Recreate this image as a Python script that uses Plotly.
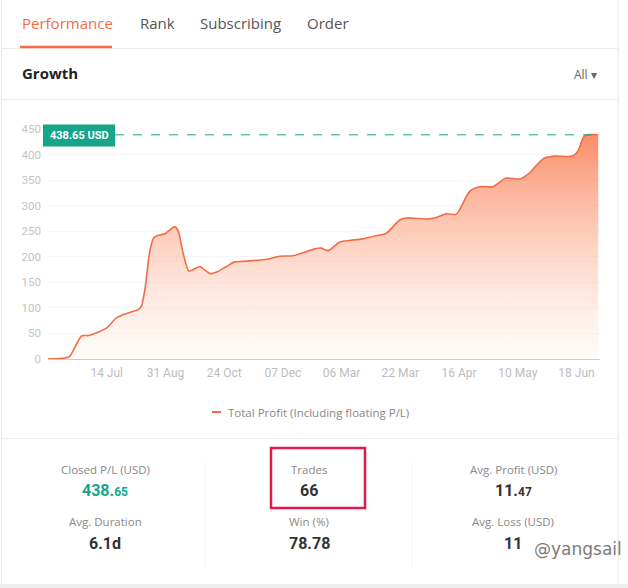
import plotly.graph_objects as go

# ---------------- data ----------------
x_pos = [0, 2.9, 3.7, 5.7, 6.9, 8.8, 10.0, 11.7, 12.8, 15.4, 15.9, 16.5, 17.3, 18.0, 18.8,
         19.9, 20.7, 21.6, 22.2, 23.0, 24.0, 25.0, 25.9, 26.5, 27.7, 28.7, 30.4, 31.8, 33.2,
         35.5, 37.2, 39.5, 41.7, 43.7, 45.3, 46.5, 47.7, 49.7, 51.4, 53.6, 55.9, 57.6, 59.9,
         61.0, 64.7, 66.1, 67.8, 69.5, 70.4, 71.8, 73.5, 75.7, 76.6, 78.0, 80.3, 81.7, 83.1,
         84.5, 86.2, 89.3, 90.2, 91.3, 92.2, 93.7]
profit = [0, 2, 5, 45, 46, 54, 61, 81, 87, 97, 103, 136, 208, 237, 242,
          245, 252, 259, 250, 208, 172, 177, 181, 176, 167, 170, 181, 190, 191,
          193, 195, 201, 202, 209, 215, 217, 212, 229, 232, 235, 241, 246, 272,
          276, 274, 277, 284, 283, 299, 328, 337, 337, 343, 354, 352, 361, 378,
          393, 397, 397, 406, 436, 439, 438.65]
tick_pos = [10, 20, 30, 40, 50, 60, 70, 80, 90]
tick_labels = ["14 Jul", "31 Aug", "24 Oct", "07 Dec", "06 Mar", "22 Mar", "16 Apr", "10 May", "18 Jun"]
y_ticks = [0, 50, 100, 150, 200, 250, 300, 350, 400, 450]
last_value = 438.65
tabs = ["Performance", "Rank", "Subscribing", "Order"]
stat_labels = [["Closed P/L (USD)", "Avg. Duration"], ["Trades", "Win (%)"], ["Avg. Profit (USD)", "Avg. Loss (USD)"]]
stat_values = [[("438.", "65"), ("6.1d", "")], [("66", ""), ("78.78", "")], [("11.", "47"), ("11", "")]]

# ---------------- layout geometry (pixels) ----------------
W, H = 628, 588
L, R, T, B = 48, 28, 129, 229
PW, PH = W - L - R, H - T - B


def px(xp):
    return (xp - L) / PW


def py(yp):
    return (H - B - yp) / PH


ORANGE = "#f26d45"
TEAL = "#17a589"
UI_FONT = "Open Sans"

fig = go.Figure()
fig.add_trace(go.Scatter(
    x=x_pos, y=profit, mode="lines",
    line=dict(color=ORANGE, width=1.6, shape="spline", smoothing=0.7),
    fill="tozeroy",
    fillgradient=dict(type="vertical",
                      colorscale=[[0, "rgba(255,245,240,0.4)"], [1, "rgba(250,135,95,0.95)"]],
                      start=0, stop=440),
    hoverinfo="skip", showlegend=False,
))

shapes = []
annotations = []

# dashed max line + label
shapes.append(dict(type="line", xref="paper", yref="y", x0=px(115), x1=px(600),
                   y0=last_value, y1=last_value, line=dict(color=TEAL, width=1, dash="dash")))
shapes.append(dict(type="rect", xref="paper", yref="paper", x0=px(43), x1=px(115),
                   y0=py(146.5), y1=py(124.5), fillcolor=TEAL, line=dict(width=0)))
annotations.append(dict(text="<b>438.65 USD</b>", xref="paper", yref="paper", x=px(79), y=py(135.5),
                        showarrow=False, font=dict(family="Roboto", size=11, color="white"),
                        xanchor="center", yanchor="middle"))

# card borders and dividers
line_c = "#e6e6e6"
shapes.append(dict(type="line", xref="paper", yref="paper", x0=px(1.5), x1=px(1.5), y0=py(0), y1=py(584), line=dict(color=line_c, width=1)))
shapes.append(dict(type="line", xref="paper", yref="paper", x0=px(618), x1=px(618), y0=py(0), y1=py(584), line=dict(color=line_c, width=1)))
for yy in [48.5, 99.5, 438.5]:
    shapes.append(dict(type="line", xref="paper", yref="paper", x0=px(1.5), x1=px(618), y0=py(yy), y1=py(yy), line=dict(color="#ececec", width=1)))
shapes.append(dict(type="rect", xref="paper", yref="paper", x0=px(0), x1=px(628), y0=py(588), y1=py(584), fillcolor="#eeeeee", line=dict(width=0)))
# column separators in stats
for xx in [205, 412]:
    shapes.append(dict(type="line", xref="paper", yref="paper", x0=px(xx), x1=px(xx), y0=py(463), y1=py(568), line=dict(color="#f2f2f2", width=1)))

# tabs
tab_x = [20, 138, 198, 305]
for i, (t, xx) in enumerate(zip(tabs, tab_x)):
    annotations.append(dict(text=t, xref="paper", yref="paper", x=px(xx), y=py(23), showarrow=False,
                            xanchor="left", yanchor="middle",
                            font=dict(family=UI_FONT, size=15, color=ORANGE if i == 0 else "#555555")))
shapes.append(dict(type="line", xref="paper", yref="paper", x0=px(20), x1=px(112), y0=py(47), y1=py(47), line=dict(color=ORANGE, width=2.5)))

annotations.append(dict(text="<b>Growth</b>", xref="paper", yref="paper", x=px(20), y=py(73), showarrow=False,
                        xanchor="left", yanchor="middle", font=dict(family=UI_FONT, size=15, color="#222222")))
annotations.append(dict(text="All ▾", xref="paper", yref="paper", x=px(599), y=py(74), showarrow=False,
                        xanchor="right", yanchor="middle", font=dict(family=UI_FONT, size=12, color="#666666")))

# legend (manual)
shapes.append(dict(type="line", xref="paper", yref="paper", x0=px(212), x1=px(221), y0=py(412), y1=py(412), line=dict(color=ORANGE, width=2)))
annotations.append(dict(text="Total Profit (Including floating P/L)", xref="paper", yref="paper", x=px(226), y=py(412),
                        showarrow=False, xanchor="left", yanchor="middle", font=dict(family=UI_FONT, size=11.5, color="#888888")))

# stats
col_x = [105, 309, 513]
for ci, cx in enumerate(col_x):
    for ri, (ly, vy) in enumerate([(469, 490), (521, 543)]):
        annotations.append(dict(text=stat_labels[ci][ri], xref="paper", yref="paper", x=px(cx), y=py(ly), showarrow=False,
                                xanchor="center", yanchor="middle", font=dict(family=UI_FONT, size=11.5, color="#888888")))
        big, small = stat_values[ci][ri]
        txt = "<b>%s</b>" % big
        if small:
            txt += "<span style='font-size:12px'><b>%s</b></span>" % small
        col = TEAL if (ci == 0 and ri == 0) else "#333333"
        annotations.append(dict(text=txt, xref="paper", yref="paper", x=px(cx), y=py(vy), showarrow=False,
                                xanchor="center", yanchor="middle", font=dict(family="Roboto", size=16, color=col)))

# highlight box
shapes.append(dict(type="rect", xref="paper", yref="paper", x0=px(271), x1=px(365), y0=py(508), y1=py(448),
                   line=dict(color="#e3184b", width=2.5), fillcolor="rgba(0,0,0,0)"))

# watermark
annotations.append(dict(text="@yangsail", xref="paper", yref="paper", x=px(624), y=py(549), showarrow=False,
                        xanchor="right", yanchor="middle",
                        font=dict(family="DejaVu Sans", size=17, color="#7a7a7a")))

fig.update_layout(
    width=W, height=H,
    margin=dict(l=L, r=R, t=T, b=B),
    paper_bgcolor="white", plot_bgcolor="white",
    shapes=shapes, annotations=annotations,
    showlegend=False,
    xaxis=dict(range=[0, 94], tickvals=tick_pos, ticktext=tick_labels, showgrid=False, zeroline=False,
               showline=True, linecolor="#cccccc", linewidth=1, ticks="", ticklabelstandoff=3,
               tickfont=dict(family="Roboto", size=12, color="#bdbdbd"), fixedrange=True),
    yaxis=dict(range=[0, 450], tickvals=y_ticks, showgrid=True, gridcolor="#f4f4f4", zeroline=False,
               showline=False, ticks="", ticklabelstandoff=6,
               tickfont=dict(family="Roboto", size=11.5, color="#c4c4c4"),
               fixedrange=True),
)

fig.write_html("out.html", config={"displayModeBar": False},
               post_script="document.body.style.margin='0';document.body.style.overflow='hidden';")
